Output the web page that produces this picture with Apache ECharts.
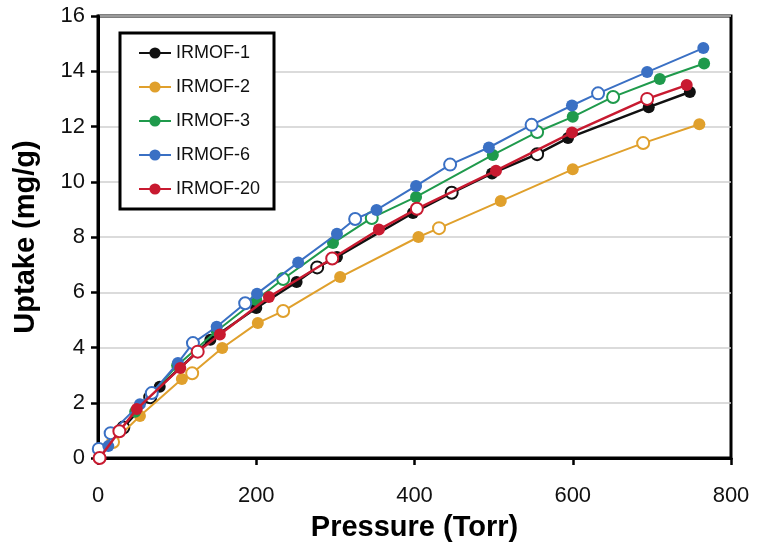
<!DOCTYPE html>
<html>
<head>
<meta charset="utf-8">
<script src="https://cdn.jsdelivr.net/npm/echarts@6/dist/echarts.min.js"></script>
<style>
html,body{margin:0;padding:0;background:#fff;}
#chart{width:757px;height:554px;}
</style>
</head>
<body>
<div id="chart"></div>
<script>
// Data: [pressure (Torr), uptake (mg/g)]; "ads" = filled markers, "des" = open markers
const seriesNames = ['IRMOF-1', 'IRMOF-2', 'IRMOF-3', 'IRMOF-6', 'IRMOF-20'];

const irmof1Ads = [[78,2.58],[142,4.28],[200,5.43],[251,6.37],[302,7.28],[398,8.87],[498,10.3],[594,11.58],[696,12.7],[748,13.25]];
const irmof1Des = [[32,1.1],[66,2.2],[277,6.9],[447,9.6],[555,11.0]];

const irmof2Ads = [[53,1.52],[106,2.86],[157,3.98],[202,4.89],[306,6.55],[405,8.0],[509,9.3],[600,10.45],[760,12.08]];
const irmof2Des = [[19,0.58],[119,3.07],[234,5.32],[431,8.32],[689,11.4]];

const irmof3Ads = [[47,1.67],[100,3.35],[150,4.6],[200,5.72],[297,7.78],[402,9.45],[499,10.97],[600,12.35],[710,13.72],[766,14.28]];
const irmof3Des = [[234,6.48],[346,8.69],[555,11.8],[651,13.07]];

const irmof6Ads = [[13,0.43],[53,1.95],[101,3.44],[150,4.75],[201,5.95],[253,7.08],[302,8.12],[352,8.98],[402,9.85],[494,11.24],[599,12.76],[694,13.97],[765,14.84]];
const irmof6Des = [[1,0.33],[16,0.9],[68,2.35],[120,4.16],[186,5.6],[325,8.65],[445,10.62],[548,12.06],[632,13.2]];

const irmof20Ads = [[49,1.77],[104,3.26],[154,4.47],[216,5.83],[355,8.27],[503,10.4],[599,11.78],[744,13.5]];
const irmof20Des = [[2,0.0],[27,0.97],[126,3.85],[296,7.22],[403,9.02],[694,13.0]];

const xTicks = [0, 200, 400, 600, 800];
const yTicks = [0, 2, 4, 6, 8, 10, 12, 14, 16];

const colors = ['#111111', '#E0A02C', '#1F9A4C', '#3A70C4', '#C81A30'];
const adsSets = [irmof1Ads, irmof2Ads, irmof3Ads, irmof6Ads, irmof20Ads];
const desSets = [irmof1Des, irmof2Des, irmof3Des, irmof6Des, irmof20Des];

function buildData(ads, des, c) {
  const pts = [];
  ads.forEach(p => pts.push({value: p, itemStyle: {color: c, borderColor: c, borderWidth: 0}}));
  des.forEach(p => pts.push({value: p, itemStyle: {color: '#ffffff', borderColor: c, borderWidth: 2}}));
  pts.sort((a, b) => a.value[0] - b.value[0]);
  return pts;
}

const series = seriesNames.map((name, i) => ({
  name: name,
  type: 'line',
  symbol: 'circle',
  symbolSize: 12,
  showAllSymbol: true,
  lineStyle: {color: colors[i], width: (i === 0 || i === 4) ? 2.5 : 2},
  itemStyle: {color: colors[i]},
  data: buildData(adsSets[i], desSets[i], colors[i]),
  z: 2 + i,
  emphasis: {disabled: true}
}));

const chart = echarts.init(document.getElementById('chart'), null, {renderer: 'canvas'});
chart.setOption({
  animation: false,
  backgroundColor: '#ffffff',
  grid: {left: 98, top: 16, width: 633, height: 442, show: true, borderColor: '#000', borderWidth: 3, backgroundColor: 'transparent'},
  legend: {
    data: seriesNames,
    orient: 'vertical',
    left: 120, top: 33,
    itemGap: 16,
    itemWidth: 32,
    itemHeight: 14,
    padding: [11, 14, 11, 18],
    borderColor: '#000',
    borderWidth: 3,
    backgroundColor: '#fff',
    textStyle: {fontFamily: 'Liberation Sans, Arial, sans-serif', fontSize: 18, color: '#111'}
  },
  xAxis: {
    type: 'value', min: xTicks[0], max: xTicks[xTicks.length - 1], interval: 200,
    name: 'Pressure (Torr)', nameLocation: 'middle', nameGap: 55,
    nameTextStyle: {fontFamily: 'Liberation Sans, Arial, sans-serif', fontSize: 29, fontWeight: 'bold', color: '#000'},
    axisLine: {lineStyle: {color: '#000', width: 3}},
    axisTick: {inside: false, length: 7, lineStyle: {color: '#000', width: 2.5}},
    axisLabel: {margin: 27, fontFamily: 'Liberation Sans Narrow, Liberation Sans, Arial, sans-serif', fontSize: 22, color: '#111'},
    splitLine: {show: false}
  },
  yAxis: {
    type: 'value', min: yTicks[0], max: yTicks[yTicks.length - 1], interval: 2,
    name: 'Uptake (mg/g)', nameLocation: 'middle', nameGap: 58,
    nameTextStyle: {fontFamily: 'Liberation Sans, Arial, sans-serif', fontSize: 29, fontWeight: 'bold', color: '#000'},
    axisLine: {show: true, lineStyle: {color: '#000', width: 3}},
    axisTick: {show: true, inside: false, length: 7, lineStyle: {color: '#000', width: 2.5}},
    axisLabel: {margin: 13, fontFamily: 'Liberation Sans, Arial, sans-serif', fontSize: 22, color: '#111'},
    splitLine: {show: true, lineStyle: {color: '#cfcfcf', width: 1.5}}
  },
  series: series
});
</script>
</body>
</html>
